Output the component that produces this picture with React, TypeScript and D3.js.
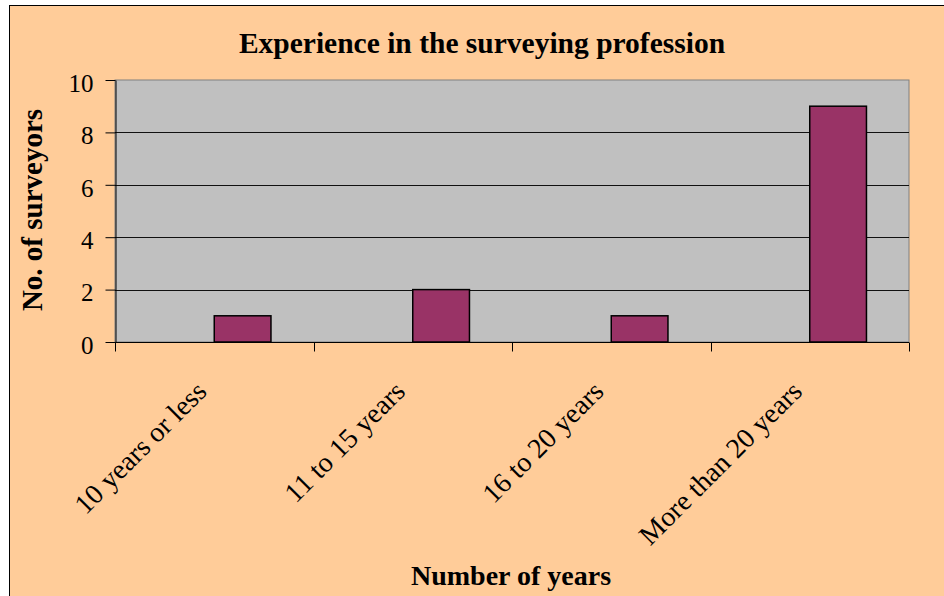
import * as d3 from "d3";
import { useRef, useEffect } from "react";

// data
const categories = ["10 years or less", "11 to 15 years", "16 to 20 years", "More than 20 years"];
const surveyors = [1, 2, 1, 9];
const yTicks = [0, 2, 4, 6, 8, 10];
// the source chart keeps an empty series slot to the left of each bar
const slots = ["blank", "surveyors"];

const W = 944;
const H = 596;
const margin = { top: 80, left: 115, right: 35, bottom: 254 };
const font = "'Liberation Serif', 'Times New Roman', serif";

const App = () => {
	const chartRef = useRef<SVGSVGElement>(null);

	useEffect(() => {
		const svg = d3.select(chartRef.current);
		svg.selectAll("*").remove();

		const x = d3.scaleBand().domain(categories).range([margin.left, W - margin.right]).padding(0);
		const slot = d3.scaleBand().domain(slots).range([0, x.bandwidth()]).paddingInner(0).paddingOuter(0.75);
		const y = d3.scaleLinear().domain([0, 10]).range([H - margin.bottom, margin.top]);

		// page + chart frame
		svg.append("rect").attr("width", W).attr("height", H).style("fill", "#fff");
		svg.append("rect")
			.attr("x", 9.5).attr("y", 5.5)
			.attr("width", W + 40).attr("height", H + 40)
			.style("fill", "#FFCC99").style("stroke", "#000");

		// plot area
		svg.append("rect")
			.attr("x", margin.left).attr("y", margin.top)
			.attr("width", W - margin.left - margin.right)
			.attr("height", H - margin.top - margin.bottom)
			.style("fill", "#C0C0C0").style("stroke", "#808080");

		svg.append("g")
			.selectAll("line")
			.data(yTicks.filter(t => t > 0 && t < 10))
			.enter()
			.append("line")
			.attr("x1", margin.left).attr("x2", W - margin.right)
			.attr("y1", d => Math.round(y(d)) + 0.5).attr("y2", d => Math.round(y(d)) + 0.5)
			.style("stroke", "#111");

		// bars
		svg.append("g")
			.selectAll("rect")
			.data(surveyors)
			.enter()
			.append("rect")
			.attr("x", (d, i) => x(categories[i])! + slot("surveyors")!)
			.attr("y", d => y(d))
			.attr("width", slot.bandwidth())
			.attr("height", d => y(0) - y(d))
			.style("fill", "#993366")
			.style("stroke", "#000")
			.style("stroke-width", 1.5);

		// y axis
		const yAxis = d3.axisLeft(y).tickValues(yTicks).tickSize(10).tickSizeOuter(0).tickPadding(12);
		const gy = svg.append("g")
			.attr("transform", `translate(${margin.left + 0.5}, 0)`)
			.call(yAxis);
		gy.select(".domain").style("stroke", "#000");
		gy.selectAll("text")
			.attr("dy", "0.45em")
			.style("font-family", font)
			.style("font-size", "25px")
			.style("fill", "#000");

		// x axis: ticks sit on the category edges
		const y0 = Math.round(y(0)) + 0.5;
		svg.append("line")
			.attr("x1", margin.left).attr("x2", W - margin.right)
			.attr("y1", y0).attr("y2", y0)
			.style("stroke", "#000");
		const edges = categories.map(c => x(c)!).concat([W - margin.right]);
		svg.append("g")
			.selectAll("line")
			.data(edges)
			.enter()
			.append("line")
			.attr("x1", d => Math.round(d) + 0.5).attr("x2", d => Math.round(d) + 0.5)
			.attr("y1", y0).attr("y2", y0 + 9)
			.style("stroke", "#000");

		svg.append("g")
			.selectAll("text")
			.data(categories)
			.enter()
			.append("text")
			.attr("transform", d => `translate(${x(d)! + x.bandwidth() / 2 - 6}, 393) rotate(-45)`)
			.attr("text-anchor", "end")
			.style("font-family", font)
			.style("font-size", "28px")
			.text(d => d);

		// titles
		svg.append("text")
			.attr("x", 482).attr("y", 53)
			.attr("text-anchor", "middle")
			.style("font-family", font).style("font-size", "29.5px").style("font-weight", "bold")
			.text("Experience in the surveying profession");

		svg.append("text")
			.attr("transform", "translate(42, 210) rotate(-90)")
			.attr("text-anchor", "middle")
			.style("font-family", font).style("font-size", "29px").style("font-weight", "bold")
			.text("No. of surveyors");

		svg.append("text")
			.attr("x", 511).attr("y", 585)
			.attr("text-anchor", "middle")
			.style("font-family", font).style("font-size", "28px").style("font-weight", "bold")
			.text("Number of years");
	}, []);

	return (
		<div style={{ position: "absolute", left: 0, top: 0 }}>
			<svg ref={chartRef} width={W} height={H} style={{ display: "block" }}></svg>
		</div>
	);
};

export default App;
